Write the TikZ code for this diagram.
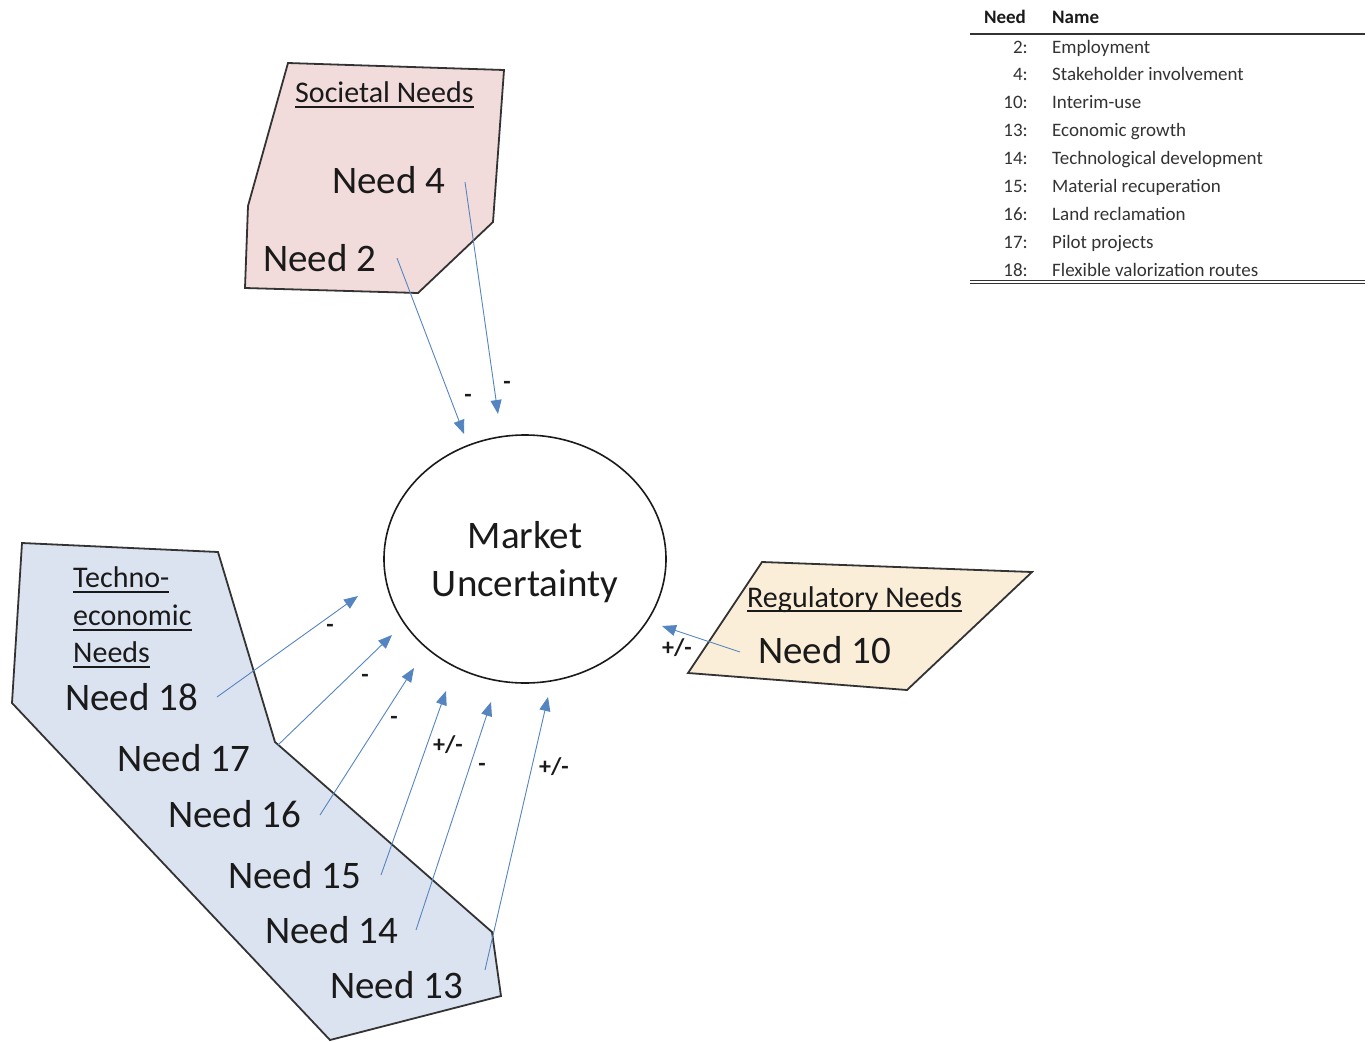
\documentclass[tikz,border=0pt]{standalone}
\usepackage{fontspec}
\setmainfont{Carlito}
\usetikzlibrary{arrows.meta,shapes.geometric}
\definecolor{socfill}{HTML}{F2DCDB}
\definecolor{techfill}{HTML}{DCE3F0}
\definecolor{regfill}{HTML}{FBEED9}
\definecolor{arrowblue}{HTML}{5585C0}
\definecolor{outline}{HTML}{333333}
\definecolor{ink}{HTML}{1A1A1A}
\definecolor{tabink}{HTML}{333333}
\begin{document}
\begin{tikzpicture}[x=1pt,y=-1pt,
  region/.style={draw=outline,line width=1.8pt,line join=miter},
  big/.style={font=\fontsize{39}{44}\selectfont,text=ink,anchor=base west,inner sep=0pt},
  headtxt/.style={font=\fontsize{30}{36}\selectfont,text=ink,anchor=base west,inner sep=0pt},
  uline/.style={draw=ink,line width=1.4pt},
  infl/.style={draw=arrowblue,line width=0.9pt,-{Triangle[length=14pt,width=11pt]}},
  sign/.style={font=\fontsize{24}{26}\selectfont\bfseries,text=ink,inner sep=0pt},
  tabtxt/.style={font=\fontsize{19}{22}\selectfont,text=tabink,inner sep=0pt}]
\useasboundingbox (0,0) rectangle (1369,1042);

% regions
\draw[region,fill=socfill] (288,63) -- (504,70) -- (493,222) -- (418,293) -- (245,288) -- (248,206) -- cycle;
\draw[region,fill=techfill] (22,543) -- (218,552) -- (275,742) -- (492,932) -- (501,996) -- (330,1040) -- (12,703) -- cycle;
\draw[region,fill=regfill] (762,562) -- (1032,572) -- (907,690) -- (688,673) -- cycle;

% central ellipse
\node[draw=ink,ellipse,line width=1.6pt,minimum width=282pt,minimum height=248pt,inner sep=0pt] (mu) at (525,559) {};
\node[big,anchor=base] (mkt) at (525,548) {Market};
\node[big,anchor=base] (unc) at (525,596) {Uncertainty};

% societal
\node[headtxt] (soc) at (295,102) {Societal Needs};
\draw[uline] ([yshift=-5pt]soc.base west) -- ([yshift=-5pt]soc.base east);
\node[big] (n4) at (332,193) {Need 4};
\node[big] (n2) at (263,271) {Need 2};

% techno-economic
\node[headtxt] (te1) at (73,587) {Techno-};
\node[headtxt] (te2) at (73,625) {economic};
\node[headtxt] (te3) at (73,662) {Needs};
\foreach \t in {te1,te2,te3}{\draw[uline] ([yshift=-5pt]\t.base west) -- ([yshift=-5pt]\t.base east);}
\node[big] (n18) at (65,710) {Need 18};
\node[big] (n17) at (117,771) {Need 17};
\node[big] (n16) at (168,827) {Need 16};
\node[big] (n15) at (228,888) {Need 15};
\node[big] (n14) at (265,943) {Need 14};
\node[big] (n13) at (330,998) {Need 13};

% regulatory
\node[headtxt] (reg) at (747,607) {Regulatory Needs};
\draw[uline] ([yshift=-4pt]reg.base west) -- ([yshift=-4pt]reg.base east);
\node[big] (n10) at (758,663) {Need 10};

% connector end points
\coordinate (s2) at (397,258);  \coordinate (t2) at (464,434);
\coordinate (s4) at (465,182);  \coordinate (t4) at (498,414);
\coordinate (s18) at (217,697); \coordinate (t18) at (358,596);
\coordinate (s17) at (278,745); \coordinate (t17) at (392,635);
\coordinate (s16) at (320,815); \coordinate (t16) at (414,668);
\coordinate (s15) at (381,875); \coordinate (t15) at (446,691);
\coordinate (s14) at (416,930); \coordinate (t14) at (491,702);
\coordinate (s13) at (485,970); \coordinate (t13) at (548,697);
\coordinate (s10) at (740,652); \coordinate (t10) at (662,626);

\draw[infl] (s2) -- (t2);
\draw[infl] (s4) -- (t4);
\draw[infl] (s18) -- (t18);
\draw[infl] (s17) -- (t17);
\draw[infl] (s16) -- (t16);
\draw[infl] (s15) -- (t15);
\draw[infl] (s14) -- (t14);
\draw[infl] (s13) -- (t13);
\draw[infl] (s10) -- (t10);

% signs
\node[sign] (g2) at (468,398) {-};
\node[sign] (g4) at (507,385) {-};
\node[sign] (g18) at (330,628) {-};
\node[sign] (g17) at (365,678) {-};
\node[sign] (g16) at (394,720) {-};
\node[sign] (g15) at (448,745) {+/-};
\node[sign] (g14) at (482,767) {-};
\node[sign] (g13) at (554,767) {+/-};
\node[sign] (g10) at (677,648) {+/-};

% table
\node[tabtxt,font=\fontsize{19}{22}\selectfont\bfseries,text=ink,anchor=base] (hneed) at (1005,23) {Need};
\node[tabtxt,font=\fontsize{19}{22}\selectfont\bfseries,text=ink,anchor=base west] (hname) at (1052,23) {Name};
\coordinate (rl) at (970,34); \coordinate (rr) at (1365,34);
\draw[draw=tabink,line width=2pt] (rl) -- (rr);
\foreach \num/\nm [count=\i from 0] in {2/Employment,4/Stakeholder involvement,10/Interim-use,13/Economic growth,14/Technological development,15/Material recuperation,16/Land reclamation,17/Pilot projects,18/Flexible valorization routes}{
  \node[tabtxt,anchor=base east] (k\i) at (1028,53+27.9*\i) {\num:};
  \node[tabtxt,anchor=base west] (v\i) at (1052,53+27.9*\i) {\nm};
}
\coordinate (bl1) at (970,280.5); \coordinate (br1) at (1365,280.5);
\coordinate (bl2) at (970,283.5); \coordinate (br2) at (1365,283.5);
\draw[draw=tabink,line width=1.1pt] (bl1) -- (br1);
\draw[draw=tabink,line width=1.1pt] (bl2) -- (br2);
\end{tikzpicture}
\end{document}
